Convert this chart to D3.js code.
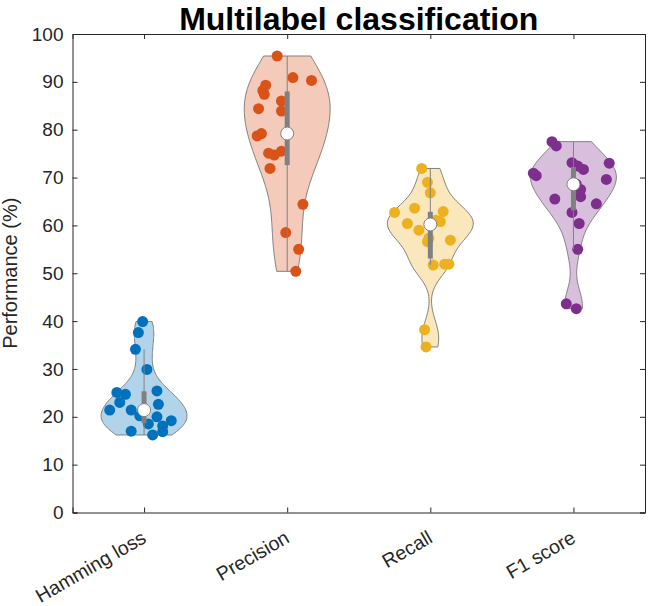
<!DOCTYPE html>
<html>
<head>
<meta charset="utf-8">
<script src="https://cdn.jsdelivr.net/npm/d3@7"></script>
<style>
    body { margin: 0; background: #fff; }
    svg { display: block; font-family: 'Liberation Sans', Arial, Helvetica, sans-serif; }
</style>
</head>
<body>
<svg id="chart" width="648" height="606"></svg>
<script>
// 類別與顏色
const categories = ['Hamming loss', 'Precision', 'Recall', 'F1 score']
const colors = ['#0072BD', '#D95319', '#EDB120', '#7E2F8E']

// 各指標的數值 (%)
const hammingLoss = [39.9, 37.6, 34.1, 29.9, 25.4, 25.1, 24.7, 23.0, 22.6, 21.4, 21.4, 20.2, 20.0, 19.2, 18.5, 18.1, 17.0, 16.9, 16.2]
const precision = [95.4, 90.9, 90.3, 89.3, 88.2, 87.4, 86.0, 84.4, 83.9, 79.2, 78.7, 75.5, 75.1, 74.7, 71.9, 64.4, 58.5, 55.0, 50.4]
const recall = [71.9, 69.0, 66.8, 63.6, 62.9, 62.7, 61.1, 60.8, 60.4, 60.2, 59.0, 57.3, 56.6, 56.9, 51.9, 51.9, 51.7, 38.2, 34.6]
const f1Score = [77.5, 76.6, 73.1, 73.0, 72.4, 71.7, 70.9, 70.4, 69.6, 68.6, 67.5, 66.0, 65.5, 64.5, 62.7, 60.4, 55.0, 43.6, 42.6]

// 散點的水平抖動 (類別單位)
const hammingJitter = [-0.01, -0.04, -0.06, 0.02, 0.09, -0.19, -0.13, -0.17, 0.10, -0.24, -0.09, -0.03, 0.09, 0.19, 0.03, 0.13, -0.09, 0.13, 0.06]
const precisionJitter = [-0.07, 0.04, 0.17, -0.15, -0.17, -0.16, -0.04, -0.20, -0.04, -0.18, -0.21, -0.04, -0.13, -0.09, -0.12, 0.11, -0.01, 0.08, 0.06]
const recallJitter = [-0.06, -0.02, 0.00, -0.11, 0.09, -0.25, 0.04, 0.07, -0.16, 0.01, -0.08, -0.01, -0.02, 0.14, 0.10, 0.13, 0.02, -0.04, -0.03]
const f1Jitter = [-0.15, -0.12, -0.01, 0.25, 0.03, 0.07, -0.28, -0.26, 0.23, 0.02, 0.05, 0.05, -0.13, 0.16, -0.01, 0.04, 0.03, -0.05, 0.02]

const yTicks = d3.range(0, 101, 10)

const series = [hammingLoss, precision, recall, f1Score].map((values, i) => ({
    name: categories[i],
    pos: i + 1,
    color: colors[i],
    values: values,
    jitter: [hammingJitter, precisionJitter, recallJitter, f1Jitter][i]
}))

const svg = d3.select('#chart')
const margin = { left: 72.5, right: 3, top: 34, bottom: 93.5 }
const W = 648, H = 606

const x = d3.scaleLinear().domain([0.5, 4.5]).range([margin.left, W - margin.right])
const y = d3.scaleLinear().domain([0, 100]).range([H - margin.bottom, margin.top])

// MATLAB 式分位數
function mquantile(sorted, p) {
    const n = sorted.length
    const pos = n * p + 0.5
    if (pos <= 1) return sorted[0]
    if (pos >= n) return sorted[n - 1]
    const lo = Math.floor(pos)
    return sorted[lo - 1] + (pos - lo) * (sorted[lo] - sorted[lo - 1])
}

// 核密度估計 (常態核, 預設頻寬)
function ksdensity(data) {
    const n = data.length
    const med = d3.median(data)
    let sig = d3.median(data, (d) => Math.abs(d - med)) / 0.6745
    if (sig <= 0) sig = d3.max(data) - d3.min(data)
    const bw = sig * Math.pow(4 / (3 * n), 0.2)
    const lo = d3.min(data), hi = d3.max(data)
    return d3.range(100).map((i) => {
        const v = lo + ((hi - lo) * i) / 99
        const dens = d3.mean(data, (d) => Math.exp(-0.5 * ((v - d) / bw) ** 2)) / (bw * Math.sqrt(2 * Math.PI))
        return [v, dens]
    })
}

const plot = svg.append('g')

series.forEach((s) => {
    const g = plot.append('g')
    const kde = ksdensity(s.values)
    const maxD = d3.max(kde, (d) => d[1])
    const area = d3.area()
        .x0((d) => x(s.pos - (0.3 * d[1]) / maxD))
        .x1((d) => x(s.pos + (0.3 * d[1]) / maxD))
        .y((d) => y(d[0]))

    // 小提琴
    g.append('path')
        .attr('d', area(kde))
        .attr('fill', s.color)
        .attr('fill-opacity', 0.3)
        .attr('stroke', '#808080')
        .attr('stroke-width', 1)

    // 散點
    g.selectAll('circle.pt')
        .data(s.values)
        .join('circle')
        .attr('class', 'pt')
        .attr('cx', (d, i) => x(s.pos + s.jitter[i]))
        .attr('cy', (d) => y(d))
        .attr('r', 5.5)
        .attr('fill', s.color)

    // 盒與鬚
    const sorted = s.values.slice().sort(d3.ascending)
    const q1 = mquantile(sorted, 0.25)
    const q2 = mquantile(sorted, 0.5)
    const q3 = mquantile(sorted, 0.75)
    const iqr = q3 - q1
    const lowW = d3.min(sorted.filter((d) => d > q1 - 1.5 * iqr))
    const hiW = d3.max(sorted.filter((d) => d < q3 + 1.5 * iqr))

    g.append('line')
        .attr('x1', x(s.pos)).attr('x2', x(s.pos))
        .attr('y1', y(lowW)).attr('y2', y(hiW))
        .attr('stroke', '#808080')
        .attr('stroke-width', 1)
    g.append('rect')
        .attr('x', x(s.pos) - 2.5)
        .attr('width', 5)
        .attr('y', y(q3))
        .attr('height', y(q1) - y(q3))
        .attr('fill', '#808080')
    g.append('circle')
        .attr('cx', x(s.pos))
        .attr('cy', y(q2))
        .attr('r', 6.5)
        .attr('fill', 'white')
        .attr('stroke', '#808080')
        .attr('stroke-width', 1)
})

// 坐標軸
const axisColor = '#262626'

const axisL = svg.append('g')
    .attr('transform', `translate(${margin.left},0)`)
    .call(d3.axisLeft(y).tickValues(yTicks).tickSize(-5).tickPadding(9))
const axisR = svg.append('g')
    .attr('transform', `translate(${W - margin.right},0)`)
    .call(d3.axisRight(y).tickValues(yTicks).tickSize(-5).tickFormat(''))
const axisB = svg.append('g')
    .attr('transform', `translate(0,${H - margin.bottom})`)
    .call(d3.axisBottom(x).tickValues([1, 2, 3, 4]).tickSize(-5).tickFormat((d) => categories[d - 1]))
const axisT = svg.append('g')
    .attr('transform', `translate(0,${margin.top})`)
    .call(d3.axisTop(x).tickValues([1, 2, 3, 4]).tickSize(-5).tickFormat(''))

;[axisL, axisR, axisB, axisT].forEach((a) => {
    a.select('.domain').attr('stroke', axisColor).attr('stroke-width', 1)
    a.selectAll('.tick line').attr('stroke', axisColor).attr('stroke-width', 1)
    a.selectAll('.tick text')
        .attr('fill', axisColor)
        .style('font-size', '19px')
        .style('font-family', "'Liberation Sans', Arial, sans-serif")
})

axisB.selectAll('.tick text')
    .attr('x', 0).attr('y', 0).attr('dy', null)
    .attr('text-anchor', 'end')
    .style('font-size', '19.5px')
    .attr('transform', 'translate(3,29) rotate(-30)')

// 軸標題
svg.append('text')
    .attr('transform', `translate(17,${(margin.top + H - margin.bottom) / 2}) rotate(-90)`)
    .attr('text-anchor', 'middle')
    .attr('fill', axisColor)
    .style('font-size', '20px')
    .text('Performance (%)')

svg.append('text')
    .attr('x', (margin.left + W - margin.right) / 2)
    .attr('y', 30)
    .attr('text-anchor', 'middle')
    .attr('fill', '#000')
    .style('font-size', '32px')
    .style('font-weight', 'bold')
    .text('Multilabel classification')
</script>
</body>
</html>
